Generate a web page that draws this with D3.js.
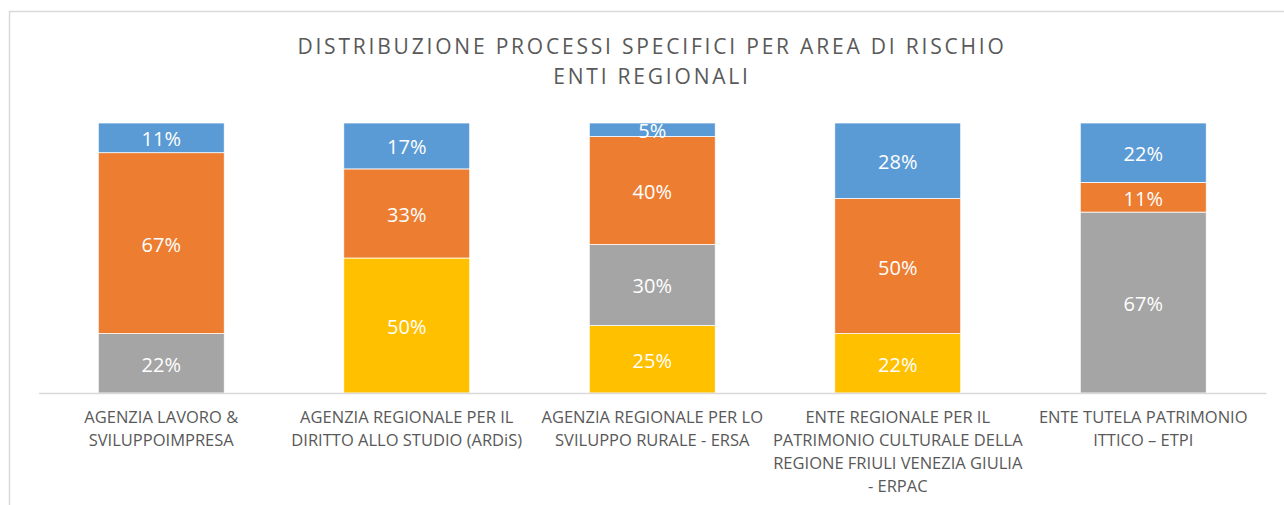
<!DOCTYPE html>
<html>
<head>
<meta charset="utf-8">
<script src="https://cdn.jsdelivr.net/npm/d3@7"></script>
<style>
  body { margin: 0; background: #fff; }
  svg { display: block; }
</style>
</head>
<body>
<div id="chart"></div>
<script>
// categories, one array of lines per category (as wrapped in the reference)
const categories = ["ALSI", "ARDiS", "ERSA", "ERPAC", "ETPI"];
const categoryLines = [
  ["AGENZIA LAVORO &", "SVILUPPOIMPRESA"],
  ["AGENZIA REGIONALE PER IL", "DIRITTO ALLO STUDIO (ARDiS)"],
  ["AGENZIA REGIONALE PER LO", "SVILUPPO RURALE - ERSA"],
  ["ENTE REGIONALE PER IL", "PATRIMONIO CULTURALE DELLA", "REGIONE FRIULI VENEZIA GIULIA", "- ERPAC"],
  ["ENTE TUTELA PATRIMONIO", "ITTICO \u2013 ETPI"]
];
// series, bottom to top
const seriesYellow = [0, 50, 25, 22, 0];
const seriesGray   = [22, 0, 30, 0, 67];
const seriesOrange = [67, 33, 40, 50, 11];
const seriesBlue   = [11, 17, 5, 28, 22];
const titleLines = ["DISTRIBUZIONE PROCESSI SPECIFICI PER AREA DI RISCHIO", "ENTI REGIONALI"];

const seriesKeys = ["yellow", "gray", "orange", "blue"];
const colors = { yellow: "#ffc000", gray: "#a5a5a5", orange: "#ed7d31", blue: "#5b9bd5" };

const rows = categories.map((c, i) => ({
  cat: c,
  yellow: seriesYellow[i], gray: seriesGray[i], orange: seriesOrange[i], blue: seriesBlue[i]
}));

const W = 1284, H = 505;
const svg = d3.select("#chart").append("svg").attr("width", W).attr("height", H);

// chart border
svg.append("rect")
  .attr("x", 9.5).attr("y", 11.5)
  .attr("width", W + 20).attr("height", H + 20)
  .attr("fill", "none").attr("stroke", "#d9d9d9").attr("stroke-width", 1.5);

// title
svg.append("g").selectAll("text")
  .data(titleLines).enter().append("text")
  .attr("x", 652).attr("y", (d, i) => 54 + i * 30)
  .attr("text-anchor", "middle")
  .attr("font-family", "'Open Sans', sans-serif")
  .attr("font-size", 21)
  .attr("letter-spacing", 2.8)
  .attr("fill", "#595959")
  .text(d => d);

const x = d3.scaleBand().domain(categories).range([38.5, 1266]).paddingInner(0.487).paddingOuter(0.2435);
const y = d3.scaleLinear().domain([0, 100]).range([393, 123]);

const stack = d3.stack().keys(seriesKeys)
  .offset(d3.stackOffsetExpand);
const stacked = stack(rows);

const layers = svg.append("g").selectAll("g")
  .data(stacked).enter().append("g")
  .attr("fill", d => colors[d.key]);

layers.selectAll("rect")
  .data(d => d.map(p => ({ key: d.key, p })))
  .enter().append("rect")
  .filter(d => d.p[1] - d.p[0] > 0)
  .attr("x", d => x(d.p.data.cat))
  .attr("width", x.bandwidth())
  .attr("y", d => y(d.p[1] * 100))
  .attr("height", d => y(d.p[0] * 100) - y(d.p[1] * 100))
  .attr("stroke", "#fff")
  .attr("stroke-width", 0.75);

// data labels
layers.selectAll("text")
  .data(d => d.map(p => ({ key: d.key, p })).filter(d => d.p.data[d.key] > 0))
  .enter().append("text")
  .attr("x", d => x(d.p.data.cat) + x.bandwidth() / 2)
  .attr("y", d => y((d.p[0] + d.p[1]) / 2 * 100))
  .attr("dy", "0.42em")
  .attr("text-anchor", "middle")
  .attr("font-family", "'Open Sans', sans-serif")
  .attr("font-size", 20)
  .attr("fill", "#fff")
  .text(d => d.p.data[d.key] + "%");

// x axis
const xAxis = svg.append("g")
  .attr("transform", "translate(0,393)")
  .call(d3.axisBottom(x).tickSize(0).tickFormat(""));
xAxis.select(".domain").attr("stroke", "#d9d9d9").attr("stroke-width", 1.5);

xAxis.selectAll(".tick").append("g")
  .each(function (c) {
    const lines = categoryLines[categories.indexOf(c)];
    d3.select(this).selectAll("text")
      .data(lines).enter().append("text")
      .attr("y", (d, i) => 30 + i * 23)
      .attr("text-anchor", "middle")
      .attr("font-family", "'Open Sans', sans-serif")
      .attr("font-size", 16.5)
      .attr("fill", "#595959")
      .text(d => d);
  });
</script>
</body>
</html>
